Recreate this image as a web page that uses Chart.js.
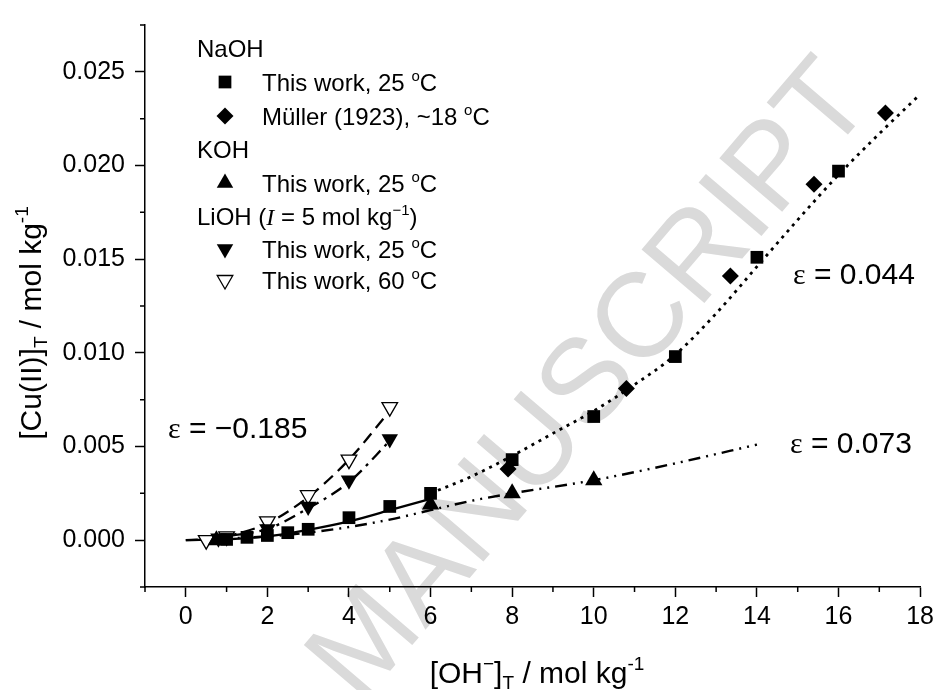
<!DOCTYPE html>
<html>
<head>
<meta charset="utf-8">
<script src="https://cdn.jsdelivr.net/npm/chart.js@4.4.0/dist/chart.umd.min.js"></script>
<style>
  html, body { margin: 0; padding: 0; background: #fff; }
  #wrap { width: 939px; height: 690px; }
</style>
</head>
<body>
<div id="wrap"><canvas id="cuChart" width="939" height="690"></canvas></div>
<script>
// measured points
const naohX = [1, 1.5, 2, 2.5, 3, 4, 5, 6, 8, 10, 12, 14, 16];
const naohY = [0.00004, 0.00015, 0.00025, 0.0004, 0.00058, 0.0012, 0.0018, 0.0025, 0.0043, 0.0066, 0.0098, 0.0151, 0.0197];
const mullerX = [7.9, 10.8, 13.35, 15.4, 17.15];
const mullerY = [0.0038, 0.0081, 0.0141, 0.0190, 0.0228];
const kohX = [0.75, 6, 8, 10];
const kohY = [0.0000, 0.0019, 0.0025, 0.0032];
const lioh25X = [0.8, 2, 3, 4, 5];
const lioh25Y = [0.0001, 0.0006, 0.0018, 0.0032, 0.0054];
const lioh60X = [0.5, 1, 2, 3, 4, 5];
const lioh60Y = [0.0000, 0.0002, 0.0010, 0.0024, 0.0043, 0.0071];

// model curves
const fitNaLowX = [0, 1, 2, 3, 4, 5, 6];
const fitNaLowY = [0, 0.00005, 0.0002, 0.00055, 0.001, 0.0016, 0.0022];
const fitNaHighX = [6, 7, 8, 9, 10, 11, 12, 13, 14, 15, 16, 17, 18];
const fitNaHighY = [0.0025, 0.0034, 0.0045, 0.0057, 0.0069, 0.0083, 0.0099, 0.0121, 0.0146, 0.0171, 0.0195, 0.0217, 0.0238];
const fitKohX = [0, 2, 3, 4, 5, 6, 7, 8, 10, 12, 14];
const fitKohY = [0, 0.0002, 0.0004, 0.0007, 0.0011, 0.0016, 0.0021, 0.0025, 0.0032, 0.0041, 0.0051];
const fitLi25X = [0.5, 1, 2, 3, 4, 5];
const fitLi25Y = [0.0000, 0.0002, 0.0006, 0.0017, 0.0031, 0.0053];
const fitLi60X = [0.5, 1, 2, 3, 4, 5];
const fitLi60Y = [0.0000, 0.0002, 0.0009, 0.0023, 0.0043, 0.0069];

// axis ticks
const xTicks = [0, 2, 4, 6, 8, 10, 12, 14, 16, 18];
const xMinor = [-1, 1, 3, 5, 7, 9, 11, 13, 15, 17];
const yTicks = [0, 0.005, 0.010, 0.015, 0.020, 0.025];
const yMinor = [-0.0025, 0.0025, 0.0075, 0.0125, 0.0175, 0.0225, 0.0275];

const pts = (xs, ys) => xs.map((x, i) => ({ x: x, y: ys[i] }));
const SANS = 'Liberation Sans, Arial, sans-serif';

function markerSet(label, xs, ys, style, r, rot, fill) {
  return {
    label: label, data: pts(xs, ys), showLine: false, order: 1,
    pointStyle: style, pointRadius: r, pointRotation: rot,
    backgroundColor: fill, borderColor: '#000', borderWidth: fill === '#fff' ? 1.3 : 0
  };
}
function curveSet(xs, ys, dash, w) {
  return {
    label: '', data: pts(xs, ys), showLine: true, order: 2, pointRadius: 0,
    borderColor: '#000', borderWidth: w, borderDash: dash,
    cubicInterpolationMode: 'monotone', fill: false
  };
}

// draw text made of pieces (sub / superscripts)
function drawParts(ctx, x, y, parts) {
  parts.forEach(p => {
    ctx.font = p.font;
    ctx.fillText(p.t, x, y + (p.dy || 0));
    x += ctx.measureText(p.t).width;
  });
}
function partsWidth(ctx, parts) {
  let w = 0;
  parts.forEach(p => { ctx.font = p.font; w += ctx.measureText(p.t).width; });
  return w;
}

const f24 = '24px ' + SANS, sup = '15px ' + SANS;
const deg = t => [{ t: t, font: f24 }, { t: 'o', font: sup, dy: -10 }, { t: 'C', font: f24 }];

const extras = {
  id: 'extras',
  beforeDraw(chart) {
    // watermark
    const ctx = chart.ctx, F = 120;
    ctx.save();
    ctx.fillStyle = '#dadada';
    ctx.font = F + 'px ' + SANS;
    ctx.translate(360, 640);
    ctx.rotate(-49.5 * Math.PI / 180);
    ctx.fillText('MANUSCRIPT', -0.4165 * F, 0.358 * F);
    ctx.restore();
  },
  afterDraw(chart) {
    const ctx = chart.ctx, xs = chart.scales.x, ys = chart.scales.y;
    const a = chart.chartArea;
    ctx.save();
    ctx.strokeStyle = '#000';
    ctx.lineWidth = 1.5;
    ctx.beginPath();
    xMinor.forEach(v => { const p = xs.getPixelForValue(v); ctx.moveTo(p, a.bottom); ctx.lineTo(p, a.bottom + 5); });
    yMinor.forEach(v => { const p = ys.getPixelForValue(v); ctx.moveTo(a.left, p); ctx.lineTo(a.left - 5, p); });
    ctx.stroke();

    ctx.fillStyle = '#000';
    ctx.textBaseline = 'alphabetic';

    // x title
    const t30 = '30px ' + SANS, s19 = '19px ' + SANS;
    const xt = [{ t: '[OH', font: t30 }, { t: '\u2212', font: s19, dy: -13 }, { t: ']', font: t30 },
      { t: 'T', font: s19, dy: 6 }, { t: ' / mol kg', font: t30 }, { t: '-1', font: s19, dy: -13 }];
    drawParts(ctx, 537 - partsWidth(ctx, xt) / 2, 683, xt);

    // y title
    const yt = [{ t: '[Cu(II)]', font: t30 }, { t: 'T', font: s19, dy: 6 }, { t: ' / mol kg', font: t30 }, { t: '-1', font: s19, dy: -13 }];
    ctx.save();
    ctx.translate(41, 323);
    ctx.rotate(-Math.PI / 2);
    drawParts(ctx, -partsWidth(ctx, yt) / 2, 0, yt);
    ctx.restore();

    // legend
    const base = y => y + 8.6;
    drawParts(ctx, 197, base(48), [{ t: 'NaOH', font: f24 }]);
    drawParts(ctx, 197, base(149), [{ t: 'KOH', font: f24 }]);
    drawParts(ctx, 197, base(216), [{ t: 'LiOH (', font: f24 }, { t: 'I', font: 'italic 24px Liberation Serif, serif' },
      { t: ' = 5 mol kg', font: f24 }, { t: '\u22121', font: sup, dy: -10 }, { t: ')', font: f24 }]);
    const rows = [
      { y: 82, style: 'rect', r: 9, rot: 0, fill: '#000', txt: deg('This work, 25 ') },
      { y: 116, style: 'rectRot', r: 8.5, rot: 0, fill: '#000', txt: deg('M\u00fcller (1923), ~18 ') },
      { y: 183, style: 'triangle', r: 9.5, rot: 0, fill: '#000', txt: deg('This work, 25 ') },
      { y: 249, style: 'triangle', r: 9.5, rot: 180, fill: '#000', txt: deg('This work, 25 ') },
      { y: 280, style: 'triangle', r: 9, rot: 180, fill: '#fff', txt: deg('This work, 60 ') }
    ];
    rows.forEach(row => {
      ctx.fillStyle = row.fill;
      ctx.strokeStyle = '#000';
      ctx.lineWidth = 1.3;
      Chart.helpers.drawPoint(ctx, { pointStyle: row.style, radius: row.r, rotation: row.rot, borderWidth: row.fill === '#fff' ? 1.3 : 0 }, 225, row.y);
      ctx.fillStyle = '#000';
      drawParts(ctx, 262, base(row.y), row.txt);
    });

    // epsilon labels
    const eps = (x, y, rest) => drawParts(ctx, x, y + 11, [{ t: '\u03b5', font: '30px Liberation Serif, serif' }, { t: rest, font: t30 }]);
    eps(793, 273, ' = 0.044');
    eps(790, 442, ' = 0.073');
    eps(168, 427, ' = \u22120.185');
    ctx.restore();
  }
};

const cuChart = new Chart(document.getElementById('cuChart'), {
  type: 'scatter',
  data: {
    datasets: [
      markerSet('NaOH 25', naohX, naohY, 'rect', 9, 0, '#000'),
      markerSet('Muller', mullerX, mullerY, 'rectRot', 8.5, 0, '#000'),
      markerSet('KOH 25', kohX, kohY, 'triangle', 10, 0, '#000'),
      markerSet('LiOH 25', lioh25X, lioh25Y, 'triangle', 9.5, 180, '#000'),
      markerSet('LiOH 60', lioh60X, lioh60Y, 'triangle', 9, 180, '#fff'),
      curveSet(fitNaLowX, fitNaLowY, [], 2.3),
      curveSet(fitNaHighX, fitNaHighY, [3, 5], 2.8),
      curveSet(fitKohX, fitKohY, [12, 6, 2, 6, 2, 6], 2.4),
      curveSet(fitLi25X, fitLi25Y, [12, 6, 3, 6], 2.3),
      curveSet(fitLi60X, fitLi60Y, [12, 7], 2.3)
    ]
  },
  options: {
    responsive: false,
    animation: false,
    layout: { padding: { left: 0, right: 17, top: 14, bottom: 0 } },
    plugins: { legend: { display: false }, tooltip: { enabled: false } },
    scales: {
      x: {
        type: 'linear', min: -1, max: 18,
        afterBuildTicks: s => { s.ticks = xTicks.map(v => ({ value: v })); },
        afterFit: s => { s.height = 103; },
        ticks: { autoSkip: false, maxRotation: 0, color: '#000', padding: 5, font: { family: SANS, size: 25 } },
        grid: { drawOnChartArea: false, tickLength: 10, tickColor: '#000', tickWidth: 1.5 },
        border: { color: '#000', width: 1.5 }
      },
      y: {
        type: 'linear', min: -0.0025, max: 0.0275,
        afterBuildTicks: s => { s.ticks = yTicks.map(v => ({ value: v })); },
        afterFit: s => { s.width = 145; },
        ticks: { autoSkip: false, color: '#000', padding: 10, font: { family: SANS, size: 25 },
          callback: v => v.toFixed(3) },
        grid: { drawOnChartArea: false, tickLength: 10, tickColor: '#000', tickWidth: 1.5 },
        border: { color: '#000', width: 1.5 }
      }
    }
  },
  plugins: [extras]
});
</script>
</body>
</html>
